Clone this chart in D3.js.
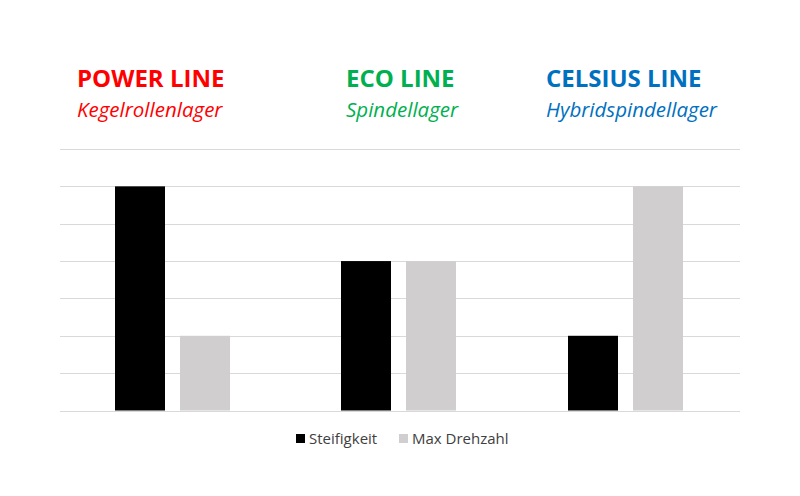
<!DOCTYPE html>
<html><head><meta charset="utf-8">
<script src="https://cdn.jsdelivr.net/npm/d3@7"></script>
<style>body{margin:0;background:#fff}svg{display:block}</style>
</head><body>
<script>
const categories = ["POWER LINE", "ECO LINE", "CELSIUS LINE"];
const subtitles = ["Kegelrollenlager", "Spindellager", "Hybridspindellager"];
const titleColors = ["#FF0000", "#00B050", "#0070C0"];
const seriesNames = ["Steifigkeit", "Max Drehzahl"];
const steifigkeit = [6, 4, 2];
const maxDrehzahl = [2, 4, 6];
const seriesColors = ["#000000", "#D0CECE"];
const yTicks = [0,1,2,3,4,5,6,7];

const W = 800, H = 496;
const svg = d3.select("body").append("svg").attr("width", W).attr("height", H);
const font = "'Open Sans', 'Noto Sans', sans-serif";

const x = d3.scaleBand().domain(categories).range([59, 739]).padding(0);
const y = d3.scaleLinear().domain([0, 7]).range([410.5, 149]);

// gridlines
svg.append("g").selectAll("line").data(yTicks).join("line")
  .attr("x1", 60).attr("x2", 740)
  .attr("y1", d => Math.round(y(d)) + 0.5).attr("y2", d => Math.round(y(d)) + 0.5)
  .attr("stroke", "#D9D9D9").attr("stroke-width", 1);

const barW = 50, gap = 15;
const series = [steifigkeit, maxDrehzahl];
series.forEach((vals, si) => {
  svg.append("g").selectAll("rect").data(categories).join("rect")
    .attr("x", (c) => Math.round(x(c) + x.bandwidth()/2 - (barW + gap/2) + si*(barW + gap)))
    .attr("width", barW)
    .attr("y", (c, i) => y(vals[i]))
    .attr("height", (c, i) => y(0) - y(vals[i]))
    .attr("fill", seriesColors[si]);
});

// titles
const titleX = [77, 346, 546];
categories.forEach((c, i) => {
  svg.append("text").attr("x", titleX[i]).attr("y", 87)
    .attr("font-family", font).attr("font-weight", "bold").attr("font-size", 24)
    .attr("textLength", null)
    .attr("fill", titleColors[i]).text(c);
  svg.append("text").attr("x", titleX[i]).attr("y", 117)
    .attr("font-family", font).attr("font-style", "italic").attr("font-size", 20.5)
    .attr("fill", titleColors[i]).text(subtitles[i]);
});

// legend
const legX = [296, 399];
seriesNames.forEach((n, i) => {
  svg.append("rect").attr("x", legX[i]).attr("y", 434).attr("width", 9).attr("height", 9)
    .attr("fill", seriesColors[i]);
  svg.append("text").attr("x", legX[i] + 13).attr("y", 444)
    .attr("font-family", font).attr("font-size", 15).attr("fill", "#404040").text(n);
});
</script>
</body></html>
